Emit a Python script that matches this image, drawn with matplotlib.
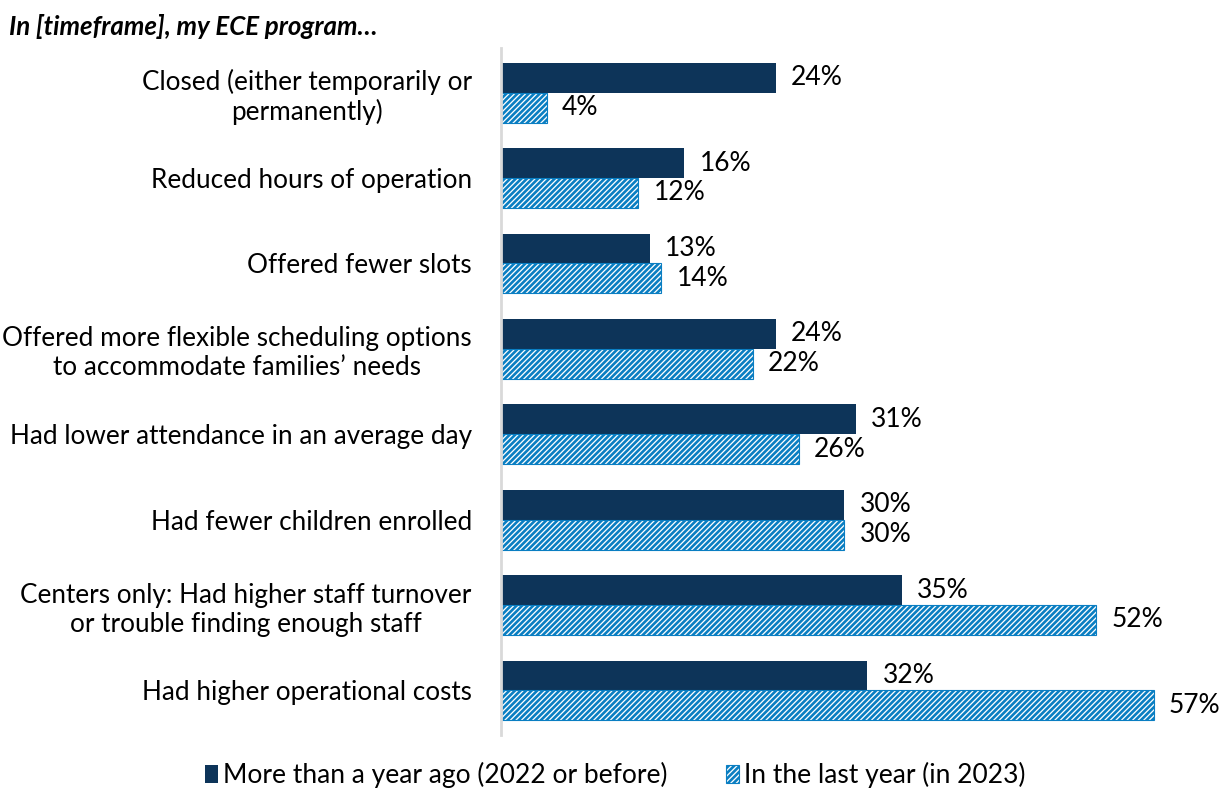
import matplotlib.pyplot as plt
import numpy as np

# ECE program changes, share of respondents by period
categories = [
    "Closed (either temporarily or\npermanently)",
    "Reduced hours of operation",
    "Offered fewer slots",
    "Offered more flexible scheduling options\nto accommodate families\u2019 needs",
    "Had lower attendance in an average day",
    "Had fewer children enrolled",
    "Centers only: Had higher staff turnover\nor trouble finding enough staff",
    "Had higher operational costs",
]
before_2023 = [24, 16, 13, 24, 31, 30, 35, 32]
in_2023 = [4, 12, 14, 22, 26, 30, 52, 57]
series_names = ["More than a year ago (2022 or before)", "In the last year (in 2023)"]

navy = "#0d3459"
blue = "#0a7ec2"

plt.rcParams['font.family'] = ['Lato', 'DejaVu Sans']
plt.rcParams['hatch.linewidth'] = 1.9
plt.rcParams['hatch.color'] = blue

fig = plt.figure(figsize=(12.31, 7.91), dpi=100)
ax = fig.add_axes([0.407, 0.071, 0.558, 0.868])

y = np.arange(len(categories))
h = 0.35

bars1 = ax.barh(y - h / 2, before_2023, height=h, color=navy, label=series_names[0])
bars2 = ax.barh(y + h / 2, in_2023, height=h, facecolor="white", edgecolor=blue,
                linewidth=0.8, hatch="//////", label=series_names[1])

for bars, vals in ((bars1, before_2023), (bars2, in_2023)):
    for b, v in zip(bars, vals):
        ax.annotate(f"{v}%", (b.get_width(), b.get_y() + b.get_height() / 2),
                    xytext=(11, 0), textcoords="offset points",
                    va="center", ha="left", fontsize=19, color="black")

ax.set_xlim(0, 60)
ax.set_ylim(len(categories) - 0.48, -0.52)
ax.set_yticks(y)
ax.set_yticklabels(categories, fontsize=18.8, ha="right", multialignment="center")
ax.tick_params(axis="y", length=0, pad=21)
ax.set_xticks([])
for side in ("top", "right", "bottom"):
    ax.spines[side].set_visible(False)
ax.spines["left"].set_color("#d9d9d9")
ax.spines["left"].set_linewidth(2)

fig.text(0.007, 0.967, "In [timeframe], my ECE program\u2026", fontsize=18.6,
         fontweight="bold", fontstyle="italic", va="center", ha="left")

fig.legend(handles=[bars1, bars2], labels=series_names, loc="center",
           bbox_to_anchor=(0.5, 0.02), ncol=2, frameon=False, fontsize=19,
           handlelength=0.5, handleheight=0.7, handletextpad=0.2, columnspacing=2.2)

fig.savefig("out.png", dpi=100)
